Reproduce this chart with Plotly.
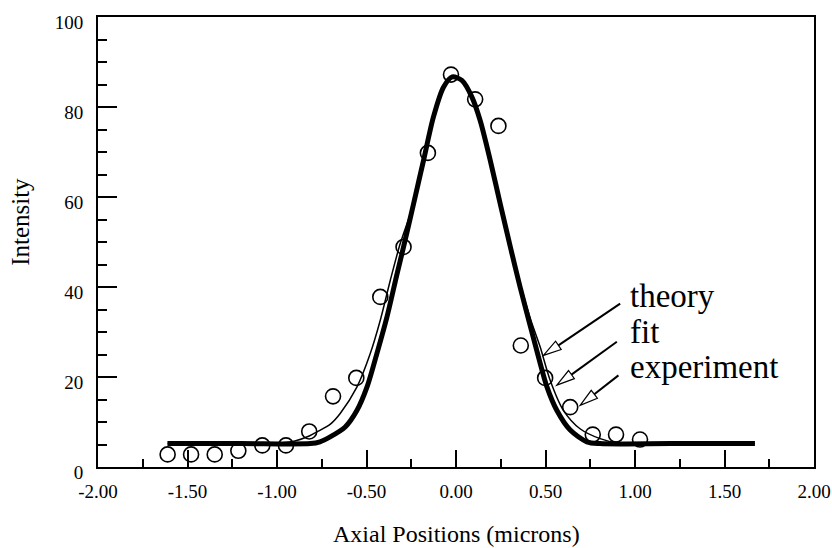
import math
import plotly.graph_objects as go

# ---------------- data ----------------
exp_x = [-1.611, -1.480, -1.348, -1.216, -1.082, -0.950, -0.820, -0.687, -0.557, -0.423,
         -0.293, -0.157, -0.028, 0.107, 0.237, 0.362, 0.498, 0.638, 0.764, 0.894, 1.028]
exp_y = [2.8, 2.8, 2.8, 3.6, 4.8, 4.8, 7.9, 15.7, 19.8, 37.8,
         48.9, 69.8, 87.2, 81.7, 75.8, 27.0, 19.8, 13.3, 7.2, 7.2, 6.1]

fit_x = [-1.612, -1.2, -0.814, -0.76, -0.703, -0.619, -0.553, -0.497, -0.442, -0.386, -0.330,
         -0.293, -0.237, -0.181, -0.126, -0.070, -0.021, 0.033, 0.089, 0.135, 0.191,
         0.247, 0.303, 0.358, 0.414, 0.461, 0.508, 0.563, 0.638, 0.731, 0.805, 1.2, 1.670]
fit_y = [5.2, 5.2, 5.2, 5.6, 6.7, 8.9, 12.6, 17.8, 25.2, 33.3, 42.8,
         48.9, 58.5, 68.2, 77.8, 84.4, 86.7, 85.9, 82.2, 77.0, 68.2,
         58.5, 49.0, 40.0, 31.5, 24.4, 17.8, 12.6, 8.2, 5.6, 5.2, 5.2, 5.2]

theory_x = [-1.611, -1.3, -1.0, -0.9, -0.82, -0.777, -0.70, -0.647, -0.553, -0.479, -0.423,
            -0.367, -0.312, -0.237, -0.181, -0.126, -0.070, -0.021, 0.033, 0.089, 0.135,
            0.191, 0.247, 0.303, 0.36, 0.415, 0.470, 0.526, 0.600, 0.693, 0.805, 0.917, 1.3, 1.670]
theory_y = [5.2, 5.2, 5.3, 5.8, 6.9, 7.8, 9.6, 11.9, 17.8, 25.2, 32.6,
            41.5, 49.6, 58.5, 68.2, 77.8, 84.4, 86.7, 85.9, 82.2, 77.0,
            68.2, 58.5, 48.9, 40.5, 33.0, 26.7, 19.3, 12.6, 8.5, 6.3, 5.2, 5.2, 5.2]

x_tick_vals = [-2.0, -1.5, -1.0, -0.5, 0.0, 0.5, 1.0, 1.5, 2.0]
x_tick_text = ["-2.00", "-1.50", "-1.00", "-0.50", "0.00", "0.50", "1.00", "1.50", "2.00"]
y_tick_vals = [0, 20, 40, 60, 80, 100]
y_tick_text = ["0", "20", "40", "60", "80", "100"]

label_names = ["theory", "fit", "experiment"]
x_title = "Axial Positions (microns)"
y_title = "Intensity"

# ---------------- layout constants ----------------
FONT = "Liberation Serif"
W, H = 832, 548
ML, MR, MT, MB = 98, 18, 17, 81

label_pos = [(0.962, 37.9), (0.962, 30.1), (0.962, 22.3)]
arrow_tips = [(0.4886, 24.8), (0.5634, 18.2), (0.6935, 13.7)]
arrow_tail_px = [(76.7, -51.7), (60.0, -43.3), (38.3, -30.0)]

fig = go.Figure()

fig.add_trace(go.Scatter(x=theory_x, y=theory_y, mode="lines",
                         line=dict(color="black", width=1.5, shape="spline", smoothing=0.8),
                         name="theory", hoverinfo="skip"))
fig.add_trace(go.Scatter(x=fit_x, y=fit_y, mode="lines",
                         line=dict(color="black", width=5, shape="spline", smoothing=0.8),
                         name="fit", hoverinfo="skip"))
fig.add_trace(go.Scatter(x=exp_x, y=exp_y, mode="markers",
                         marker=dict(symbol="circle-open", size=15, color="black",
                                     line=dict(width=1.6, color="black")),
                         name="experiment"))

for name, (lx, ly) in zip(label_names, label_pos):
    fig.add_annotation(x=lx, y=ly, xref="x", yref="y", text=name, showarrow=False,
                       xanchor="left", yanchor="middle",
                       font=dict(family=FONT, size=33, color="black"))

# axis titles placed as annotations
fig.add_annotation(x=-0.108, y=0.544, xref="paper", yref="paper", text=y_title,
                   showarrow=False, textangle=-90, xanchor="center", yanchor="middle",
                   font=dict(family=FONT, size=25, color="black"))
fig.add_annotation(x=0.5, y=-0.148, xref="paper", yref="paper", text=x_title,
                   showarrow=False, xanchor="center", yanchor="middle",
                   font=dict(family=FONT, size=24, color="black"))

HEAD_L, HEAD_W = 18, 5
for (tx, ty), (dx, dy) in zip(arrow_tips, arrow_tail_px):
    ux, uy = dx, -dy
    n = math.hypot(ux, uy)
    ux, uy = ux / n, uy / n
    px, py = -uy, ux
    bx, by = ux * HEAD_L, uy * HEAD_L
    c1 = (bx + px * HEAD_W, by + py * HEAD_W)
    c2 = (bx - px * HEAD_W, by - py * HEAD_W)
    tail = (dx, -dy)
    fig.add_shape(type="path", xref="x", yref="y", xsizemode="pixel", ysizemode="pixel",
                  xanchor=tx, yanchor=ty,
                  path=f"M {bx:.2f},{by:.2f} L {tail[0]:.2f},{tail[1]:.2f}",
                  line=dict(color="black", width=2))
    fig.add_shape(type="path", xref="x", yref="y", xsizemode="pixel", ysizemode="pixel",
                  xanchor=tx, yanchor=ty,
                  path=f"M 0,0 L {c1[0]:.2f},{c1[1]:.2f} L {c2[0]:.2f},{c2[1]:.2f} Z",
                  fillcolor="white", line=dict(color="black", width=1.2))

fig.update_layout(
    width=W, height=H,
    margin=dict(l=ML, r=MR, t=MT, b=MB, autoexpand=False),
    plot_bgcolor="white", paper_bgcolor="white",
    showlegend=False,
    font=dict(family=FONT, color="black"),
)

fig.update_xaxes(
    range=[-2, 2], tickmode="array", tickvals=x_tick_vals, ticktext=x_tick_text,
    ticks="inside", ticklen=17, tickwidth=2, tickcolor="black",
    minor=dict(dtick=0.25, tick0=-2, ticks="inside", ticklen=8, tickwidth=2,
               tickcolor="black", showgrid=False),
    showline=True, linewidth=2, linecolor="black", mirror=True,
    showgrid=False, zeroline=False, automargin=False,
    tickfont=dict(family=FONT, size=19, color="black"),
    ticklabelstandoff=6,
)
fig.update_yaxes(
    range=[0, 100], tickmode="array", tickvals=y_tick_vals, ticktext=y_tick_text,
    ticks="inside", ticklen=19, tickwidth=2, tickcolor="black",
    minor=dict(dtick=5, tick0=0, ticks="inside", ticklen=9, tickwidth=2,
               tickcolor="black", showgrid=False),
    showline=True, linewidth=2, linecolor="black", mirror=True,
    showgrid=False, zeroline=False, automargin=False,
    tickfont=dict(family=FONT, size=19, color="black"),
    ticklabelstandoff=9, ticklabelshift=5,
)

fig.write_html("out.html")
